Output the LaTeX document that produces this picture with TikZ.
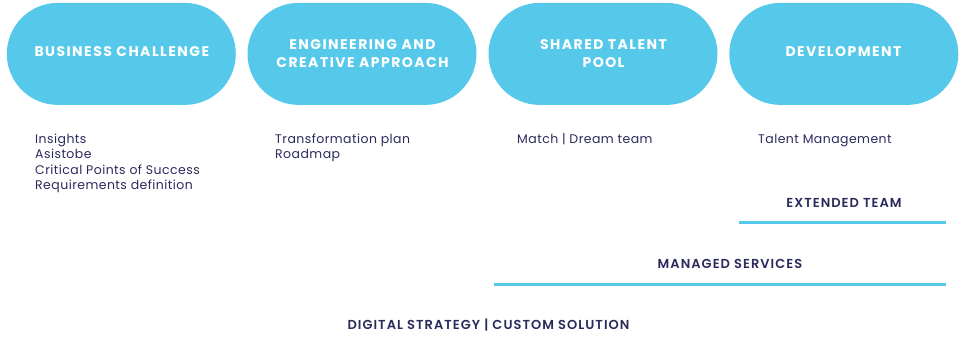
\documentclass[tikz,border=0pt]{standalone}
\usepackage{fontspec}
\setmainfont{Poppins}[LetterSpace=3.5]
\newfontfamily\headfont{Poppins SemiBold}[LetterSpace=8]
\newfontfamily\pillfont{Poppins Bold}[LetterSpace=10.5]
\definecolor{pillblue}{HTML}{56C9EB}
\definecolor{navy}{HTML}{2B2A5C}
\tikzset{
  pill/.style={fill=pillblue, draw=none, rounded corners=51pt, minimum width=229pt, minimum height=102pt, inner sep=0pt},
  pilltext/.style={inner sep=0pt, text=white, font=\pillfont\fontsize{14}{18.3}\selectfont, align=center},
  itemtext/.style={anchor=base west, inner sep=0pt, text=navy, font=\fontsize{12.5}{15}\selectfont},
  bandlabel/.style={anchor=base, inner sep=0pt, text=navy, font=\headfont\fontsize{13}{15}\selectfont},
  band/.style={draw=pillblue, line width=2.6pt}
}
\begin{document}
\begin{tikzpicture}[x=1pt,y=-1pt]
\useasboundingbox (0,0) rectangle (961,342);
\node[pill] (p1) at (121.3,53.9) {};
\node[pill] (p2) at (362,53.9) {};
\node[pill] (p3) at (603,53.9) {};
\node[pill] (p4) at (843.8,53.9) {};
\node[pilltext] (h1) at (121.8,51.9) {BUSINESS CHALLENGE};
\node[pilltext] (h2) at (362.5,53.3) {ENGINEERING AND\\CREATIVE APPROACH};
\node[pilltext] (h3) at (603.5,53.3) {SHARED TALENT\\POOL};
\node[pilltext] (h4) at (843.5,51.9) {DEVELOPMENT};
\node[itemtext] (t1a) at (35,143.3) {Insights};
\node[itemtext] (t1b) at (35,158.7) {Asistobe};
\node[itemtext] (t1c) at (35,174.2) {Critical Points of Success};
\node[itemtext] (t1d) at (35,189.5) {Requirements definition};
\node[itemtext] (t2a) at (275,143.3) {Transformation plan};
\node[itemtext] (t2b) at (275,158.7) {Roadmap};
\node[itemtext] (t3) at (517,143.3) {Match | Dream team};
\node[itemtext] (t4) at (758,143.3) {Talent Management};
\node[bandlabel] (ext) at (844,207.7) {EXTENDED TEAM};
\coordinate (e1) at (739,222.5);
\coordinate (e2) at (946,222.5);
\draw[band] (e1) -- (e2);
\node[bandlabel] (man) at (730,268.3) {MANAGED SERVICES};
\coordinate (m1) at (494,284.5);
\coordinate (m2) at (946,284.5);
\draw[band] (m1) -- (m2);
\node[bandlabel] (dig) at (488.5,329.3) {DIGITAL STRATEGY | CUSTOM SOLUTION};
\end{tikzpicture}
\end{document}
